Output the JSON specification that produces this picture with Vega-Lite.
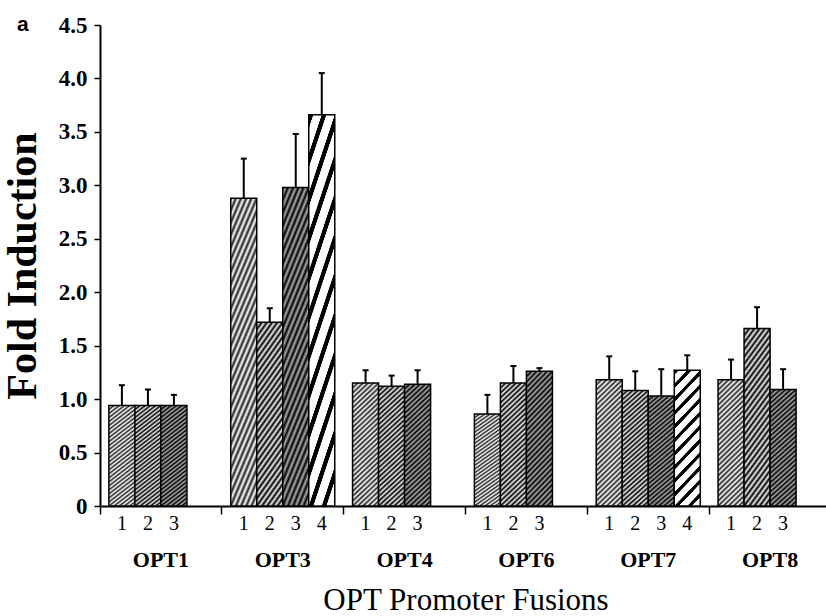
{
  "$schema": "https://vega.github.io/schema/vega-lite/v6.json",
  "width": 726,
  "height": 481,
  "autosize": {"type": "none"},
  "padding": {"left": 100, "top": 25, "right": 0, "bottom": 110},
  "background": "white",
  "title": {"text": "a", "anchor": "start", "frame": "group", "orient": "top", "font": "Liberation Sans", "fontSize": 21, "fontWeight": "bold", "color": "#000", "baseline": "alphabetic", "offset": 0, "dx": -83, "dy": 38},
  "data": {
    "values": [
      {"group": "OPT1", "series": 1, "value": 0.94, "upper": 1.13},
      {"group": "OPT1", "series": 2, "value": 0.94, "upper": 1.09},
      {"group": "OPT1", "series": 3, "value": 0.94, "upper": 1.04},
      {"group": "OPT3", "series": 1, "value": 2.88, "upper": 3.25},
      {"group": "OPT3", "series": 2, "value": 1.72, "upper": 1.85},
      {"group": "OPT3", "series": 3, "value": 2.98, "upper": 3.48},
      {"group": "OPT3", "series": 4, "value": 3.66, "upper": 4.05},
      {"group": "OPT4", "series": 1, "value": 1.15, "upper": 1.27},
      {"group": "OPT4", "series": 2, "value": 1.12, "upper": 1.22},
      {"group": "OPT4", "series": 3, "value": 1.14, "upper": 1.27},
      {"group": "OPT6", "series": 1, "value": 0.86, "upper": 1.04},
      {"group": "OPT6", "series": 2, "value": 1.15, "upper": 1.31},
      {"group": "OPT6", "series": 3, "value": 1.26, "upper": 1.29},
      {"group": "OPT7", "series": 1, "value": 1.18, "upper": 1.40},
      {"group": "OPT7", "series": 2, "value": 1.08, "upper": 1.26},
      {"group": "OPT7", "series": 3, "value": 1.03, "upper": 1.28},
      {"group": "OPT7", "series": 4, "value": 1.27, "upper": 1.41},
      {"group": "OPT8", "series": 1, "value": 1.18, "upper": 1.37},
      {"group": "OPT8", "series": 2, "value": 1.66, "upper": 1.86},
      {"group": "OPT8", "series": 3, "value": 1.09, "upper": 1.28}
    ]
  },
  "encoding": {
    "x": {
      "field": "group",
      "type": "nominal",
      "title": "OPT Promoter Fusions",
      "scale": {"domain": ["OPT1", "OPT3", "OPT4", "OPT6", "OPT7", "OPT8"], "range": [0, 731], "paddingInner": 0, "paddingOuter": 0},
      "axis": {
        "domainColor": "#000", "domainWidth": 2,
        "ticks": true, "tickColor": "#000", "tickWidth": 1.5, "tickSize": 8, "bandPosition": 0,
        "labelAngle": 0, "labelFont": "Liberation Serif", "labelFontWeight": "bold", "labelFontSize": 22, "labelColor": "#000", "labelPadding": 35, "labelBaseline": "top",
        "titleFont": "Liberation Serif", "titleFontWeight": "normal", "titleFontSize": 31, "titleColor": "#000", "titlePadding": 15,
        "grid": false
      }
    },
    "xOffset": {"field": "series", "type": "nominal", "scale": {"domain": [1, 2, 3, 4], "paddingInner": 0, "paddingOuter": 0.342}}
  },
  "layer": [
    {
      "mark": {"type": "bar", "stroke": "#000", "strokeWidth": 1.5},
      "encoding": {
        "y": {
          "field": "value", "type": "quantitative", "title": "Fold Induction",
          "scale": {"domain": [0, 4.5], "nice": false, "zero": true},
          "axis": {
            "values": [0, 0.5, 1, 1.5, 2, 2.5, 3, 3.5, 4, 4.5],
            "labelExpr": "datum.value == 0 ? '0' : format(datum.value, '.1f')",
            "domainColor": "#000", "domainWidth": 2,
            "tickColor": "#000", "tickWidth": 1.5, "tickSize": 6,
            "labelFont": "Liberation Serif", "labelFontWeight": "bold", "labelFontSize": 23, "labelColor": "#000", "labelPadding": 7,
            "labelOverlap": false, "labelFlush": false,
            "titleFont": "Liberation Serif", "titleFontWeight": "bold", "titleFontSize": 42, "titleColor": "#000", "titlePadding": 14,
            "grid": false
          }
        },
        "fill": {
          "condition": [
            {"test": "datum.series === 1", "value": {"gradient": "linear", "x1": 0, "y1": 0, "x2": 0.2308, "y2": 1.1538, "stops": [
              {"offset": 0, "color": "#222"}, {"offset": 0.0167, "color": "#fff"}, {"offset": 0.0333, "color": "#222"}, {"offset": 0.05, "color": "#fff"},
              {"offset": 0.0667, "color": "#222"}, {"offset": 0.0833, "color": "#fff"}, {"offset": 0.1, "color": "#222"}, {"offset": 0.1167, "color": "#fff"},
              {"offset": 0.1333, "color": "#222"}, {"offset": 0.15, "color": "#fff"}, {"offset": 0.1667, "color": "#222"}, {"offset": 0.1833, "color": "#fff"},
              {"offset": 0.2, "color": "#222"}, {"offset": 0.2167, "color": "#fff"}, {"offset": 0.2333, "color": "#222"}, {"offset": 0.25, "color": "#fff"},
              {"offset": 0.2667, "color": "#222"}, {"offset": 0.2833, "color": "#fff"}, {"offset": 0.3, "color": "#222"}, {"offset": 0.3167, "color": "#fff"},
              {"offset": 0.3333, "color": "#222"}, {"offset": 0.35, "color": "#fff"}, {"offset": 0.3667, "color": "#222"}, {"offset": 0.3833, "color": "#fff"},
              {"offset": 0.4, "color": "#222"}, {"offset": 0.4167, "color": "#fff"}, {"offset": 0.4333, "color": "#222"}, {"offset": 0.45, "color": "#fff"},
              {"offset": 0.4667, "color": "#222"}, {"offset": 0.4833, "color": "#fff"}, {"offset": 0.5, "color": "#222"}, {"offset": 0.5167, "color": "#fff"},
              {"offset": 0.5333, "color": "#222"}, {"offset": 0.55, "color": "#fff"}, {"offset": 0.5667, "color": "#222"}, {"offset": 0.5833, "color": "#fff"},
              {"offset": 0.6, "color": "#222"}, {"offset": 0.6167, "color": "#fff"}, {"offset": 0.6333, "color": "#222"}, {"offset": 0.65, "color": "#fff"},
              {"offset": 0.6667, "color": "#222"}, {"offset": 0.6833, "color": "#fff"}, {"offset": 0.7, "color": "#222"}, {"offset": 0.7167, "color": "#fff"},
              {"offset": 0.7333, "color": "#222"}, {"offset": 0.75, "color": "#fff"}, {"offset": 0.7667, "color": "#222"}, {"offset": 0.7833, "color": "#fff"},
              {"offset": 0.8, "color": "#222"}, {"offset": 0.8167, "color": "#fff"}, {"offset": 0.8333, "color": "#222"}, {"offset": 0.85, "color": "#fff"},
              {"offset": 0.8667, "color": "#222"}, {"offset": 0.8833, "color": "#fff"}, {"offset": 0.9, "color": "#222"}, {"offset": 0.9167, "color": "#fff"},
              {"offset": 0.9333, "color": "#222"}, {"offset": 0.95, "color": "#fff"}, {"offset": 0.9667, "color": "#222"}, {"offset": 0.9833, "color": "#fff"},
              {"offset": 1, "color": "#222"}
            ]}},
            {"test": "datum.series === 2", "value": {"gradient": "linear", "x1": 0, "y1": 0, "x2": 0.2308, "y2": 1.1538, "stops": [
              {"offset": 0, "color": "#000"}, {"offset": 0.0167, "color": "#eee"}, {"offset": 0.0333, "color": "#000"}, {"offset": 0.05, "color": "#eee"},
              {"offset": 0.0667, "color": "#000"}, {"offset": 0.0833, "color": "#eee"}, {"offset": 0.1, "color": "#000"}, {"offset": 0.1167, "color": "#eee"},
              {"offset": 0.1333, "color": "#000"}, {"offset": 0.15, "color": "#eee"}, {"offset": 0.1667, "color": "#000"}, {"offset": 0.1833, "color": "#eee"},
              {"offset": 0.2, "color": "#000"}, {"offset": 0.2167, "color": "#eee"}, {"offset": 0.2333, "color": "#000"}, {"offset": 0.25, "color": "#eee"},
              {"offset": 0.2667, "color": "#000"}, {"offset": 0.2833, "color": "#eee"}, {"offset": 0.3, "color": "#000"}, {"offset": 0.3167, "color": "#eee"},
              {"offset": 0.3333, "color": "#000"}, {"offset": 0.35, "color": "#eee"}, {"offset": 0.3667, "color": "#000"}, {"offset": 0.3833, "color": "#eee"},
              {"offset": 0.4, "color": "#000"}, {"offset": 0.4167, "color": "#eee"}, {"offset": 0.4333, "color": "#000"}, {"offset": 0.45, "color": "#eee"},
              {"offset": 0.4667, "color": "#000"}, {"offset": 0.4833, "color": "#eee"}, {"offset": 0.5, "color": "#000"}, {"offset": 0.5167, "color": "#eee"},
              {"offset": 0.5333, "color": "#000"}, {"offset": 0.55, "color": "#eee"}, {"offset": 0.5667, "color": "#000"}, {"offset": 0.5833, "color": "#eee"},
              {"offset": 0.6, "color": "#000"}, {"offset": 0.6167, "color": "#eee"}, {"offset": 0.6333, "color": "#000"}, {"offset": 0.65, "color": "#eee"},
              {"offset": 0.6667, "color": "#000"}, {"offset": 0.6833, "color": "#eee"}, {"offset": 0.7, "color": "#000"}, {"offset": 0.7167, "color": "#eee"},
              {"offset": 0.7333, "color": "#000"}, {"offset": 0.75, "color": "#eee"}, {"offset": 0.7667, "color": "#000"}, {"offset": 0.7833, "color": "#eee"},
              {"offset": 0.8, "color": "#000"}, {"offset": 0.8167, "color": "#eee"}, {"offset": 0.8333, "color": "#000"}, {"offset": 0.85, "color": "#eee"},
              {"offset": 0.8667, "color": "#000"}, {"offset": 0.8833, "color": "#eee"}, {"offset": 0.9, "color": "#000"}, {"offset": 0.9167, "color": "#eee"},
              {"offset": 0.9333, "color": "#000"}, {"offset": 0.95, "color": "#eee"}, {"offset": 0.9667, "color": "#000"}, {"offset": 0.9833, "color": "#eee"},
              {"offset": 1, "color": "#000"}
            ]}},
            {"test": "datum.series === 3", "value": {"gradient": "linear", "x1": 0, "y1": 0, "x2": 0.2308, "y2": 1.1538, "stops": [
              {"offset": 0, "color": "#000"}, {"offset": 0.0167, "color": "#aaa"}, {"offset": 0.0333, "color": "#000"}, {"offset": 0.05, "color": "#aaa"},
              {"offset": 0.0667, "color": "#000"}, {"offset": 0.0833, "color": "#aaa"}, {"offset": 0.1, "color": "#000"}, {"offset": 0.1167, "color": "#aaa"},
              {"offset": 0.1333, "color": "#000"}, {"offset": 0.15, "color": "#aaa"}, {"offset": 0.1667, "color": "#000"}, {"offset": 0.1833, "color": "#aaa"},
              {"offset": 0.2, "color": "#000"}, {"offset": 0.2167, "color": "#aaa"}, {"offset": 0.2333, "color": "#000"}, {"offset": 0.25, "color": "#aaa"},
              {"offset": 0.2667, "color": "#000"}, {"offset": 0.2833, "color": "#aaa"}, {"offset": 0.3, "color": "#000"}, {"offset": 0.3167, "color": "#aaa"},
              {"offset": 0.3333, "color": "#000"}, {"offset": 0.35, "color": "#aaa"}, {"offset": 0.3667, "color": "#000"}, {"offset": 0.3833, "color": "#aaa"},
              {"offset": 0.4, "color": "#000"}, {"offset": 0.4167, "color": "#aaa"}, {"offset": 0.4333, "color": "#000"}, {"offset": 0.45, "color": "#aaa"},
              {"offset": 0.4667, "color": "#000"}, {"offset": 0.4833, "color": "#aaa"}, {"offset": 0.5, "color": "#000"}, {"offset": 0.5167, "color": "#aaa"},
              {"offset": 0.5333, "color": "#000"}, {"offset": 0.55, "color": "#aaa"}, {"offset": 0.5667, "color": "#000"}, {"offset": 0.5833, "color": "#aaa"},
              {"offset": 0.6, "color": "#000"}, {"offset": 0.6167, "color": "#aaa"}, {"offset": 0.6333, "color": "#000"}, {"offset": 0.65, "color": "#aaa"},
              {"offset": 0.6667, "color": "#000"}, {"offset": 0.6833, "color": "#aaa"}, {"offset": 0.7, "color": "#000"}, {"offset": 0.7167, "color": "#aaa"},
              {"offset": 0.7333, "color": "#000"}, {"offset": 0.75, "color": "#aaa"}, {"offset": 0.7667, "color": "#000"}, {"offset": 0.7833, "color": "#aaa"},
              {"offset": 0.8, "color": "#000"}, {"offset": 0.8167, "color": "#aaa"}, {"offset": 0.8333, "color": "#000"}, {"offset": 0.85, "color": "#aaa"},
              {"offset": 0.8667, "color": "#000"}, {"offset": 0.8833, "color": "#aaa"}, {"offset": 0.9, "color": "#000"}, {"offset": 0.9167, "color": "#aaa"},
              {"offset": 0.9333, "color": "#000"}, {"offset": 0.95, "color": "#aaa"}, {"offset": 0.9667, "color": "#000"}, {"offset": 0.9833, "color": "#aaa"},
              {"offset": 1, "color": "#000"}
            ]}}
          ],
          "value": {"gradient": "linear", "x1": 0, "y1": 0, "x2": 0.2308, "y2": 1.1538, "stops": [
            {"offset": 0.002, "color": "#000"}, {"offset": 0.027, "color": "#000"}, {"offset": 0.031, "color": "#fff"}, {"offset": 0.0813, "color": "#fff"},
            {"offset": 0.0853, "color": "#000"}, {"offset": 0.1103, "color": "#000"}, {"offset": 0.1143, "color": "#fff"}, {"offset": 0.1646, "color": "#fff"},
            {"offset": 0.1687, "color": "#000"}, {"offset": 0.1937, "color": "#000"}, {"offset": 0.1977, "color": "#fff"}, {"offset": 0.248, "color": "#fff"},
            {"offset": 0.252, "color": "#000"}, {"offset": 0.277, "color": "#000"}, {"offset": 0.281, "color": "#fff"}, {"offset": 0.3313, "color": "#fff"},
            {"offset": 0.3353, "color": "#000"}, {"offset": 0.3603, "color": "#000"}, {"offset": 0.3643, "color": "#fff"}, {"offset": 0.4146, "color": "#fff"},
            {"offset": 0.4187, "color": "#000"}, {"offset": 0.4437, "color": "#000"}, {"offset": 0.4477, "color": "#fff"}, {"offset": 0.498, "color": "#fff"},
            {"offset": 0.502, "color": "#000"}, {"offset": 0.527, "color": "#000"}, {"offset": 0.531, "color": "#fff"}, {"offset": 0.5813, "color": "#fff"},
            {"offset": 0.5853, "color": "#000"}, {"offset": 0.6103, "color": "#000"}, {"offset": 0.6143, "color": "#fff"}, {"offset": 0.6646, "color": "#fff"},
            {"offset": 0.6687, "color": "#000"}, {"offset": 0.6937, "color": "#000"}, {"offset": 0.6977, "color": "#fff"}, {"offset": 0.748, "color": "#fff"},
            {"offset": 0.752, "color": "#000"}, {"offset": 0.777, "color": "#000"}, {"offset": 0.781, "color": "#fff"}, {"offset": 0.8313, "color": "#fff"},
            {"offset": 0.8353, "color": "#000"}, {"offset": 0.8603, "color": "#000"}, {"offset": 0.8643, "color": "#fff"}, {"offset": 0.9146, "color": "#fff"},
            {"offset": 0.9187, "color": "#000"}, {"offset": 0.9437, "color": "#000"}, {"offset": 0.9477, "color": "#fff"}, {"offset": 0.998, "color": "#fff"}
          ]}
        }
      }
    },
    {
      "mark": {"type": "rule", "strokeWidth": 2, "color": "#000"},
      "encoding": {
        "y": {"field": "value", "type": "quantitative", "title": "Fold Induction"},
        "y2": {"field": "upper"}
      }
    },
    {
      "mark": {"type": "tick", "thickness": 2, "size": 6, "color": "#000", "opacity": 1},
      "encoding": {
        "y": {"field": "upper", "type": "quantitative", "title": "Fold Induction"}
      }
    },
    {
      "mark": {"type": "text", "font": "Liberation Serif", "fontSize": 20, "baseline": "middle", "dy": 18, "color": "#000"},
      "encoding": {
        "y": {"datum": 0, "type": "quantitative"},
        "text": {"field": "series", "type": "nominal"}
      }
    }
  ],
  "config": {"view": {"stroke": null}}
}
